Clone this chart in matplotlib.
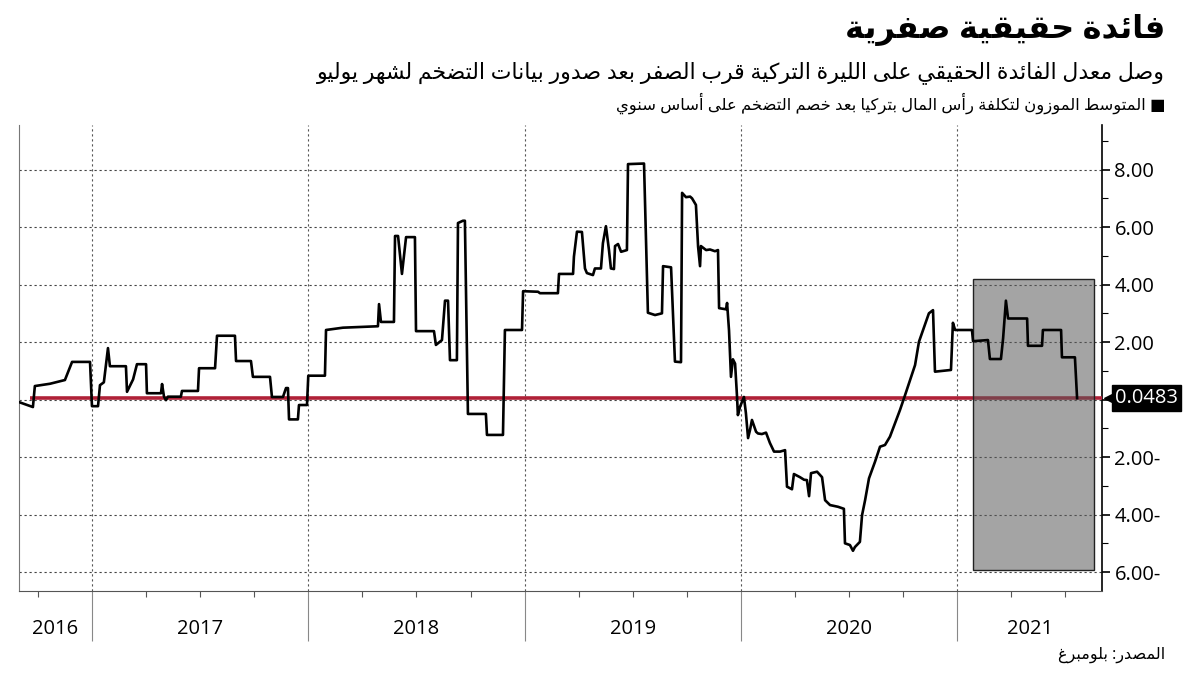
import matplotlib
matplotlib.use("Agg")
import matplotlib.pyplot as plt
import matplotlib.transforms as mtransforms
from matplotlib.ticker import FixedLocator, FuncFormatter, MultipleLocator
from matplotlib.patches import Rectangle

# ---- data (x in decimal years) ----
years = [2016.667, 2016.727, 2016.736, 2016.806, 2016.875, 2016.908, 2016.991, 2017.000,
         2017.028, 2017.037, 2017.055, 2017.074, 2017.083, 2017.157, 2017.162, 2017.190,
         2017.208, 2017.250, 2017.254, 2017.319, 2017.324, 2017.333, 2017.342, 2017.351,
         2017.411, 2017.416, 2017.490, 2017.495, 2017.569, 2017.578, 2017.661, 2017.666,
         2017.735, 2017.744, 2017.823, 2017.832, 2017.883, 2017.897, 2017.906, 2017.911,
         2017.952, 2017.957, 2017.994, 2018.000, 2018.077, 2018.082, 2018.160, 2018.322,
         2018.327, 2018.336, 2018.396, 2018.401, 2018.415, 2018.433, 2018.452, 2018.493,
         2018.498, 2018.581, 2018.590, 2018.618, 2018.632, 2018.646, 2018.655, 2018.687,
         2018.692, 2018.715, 2018.724, 2018.738, 2018.821, 2018.826, 2018.900, 2018.909,
         2018.988, 2018.993, 2019.062, 2019.071, 2019.154, 2019.159, 2019.224, 2019.228,
         2019.242, 2019.265, 2019.279, 2019.288, 2019.316, 2019.325, 2019.353, 2019.362,
         2019.376, 2019.390, 2019.399, 2019.413, 2019.418, 2019.432, 2019.446, 2019.473,
         2019.478, 2019.552, 2019.570, 2019.603, 2019.635, 2019.640, 2019.677, 2019.695,
         2019.723, 2019.728, 2019.746, 2019.765, 2019.774, 2019.792, 2019.802, 2019.811,
         2019.815, 2019.839, 2019.857, 2019.880, 2019.894, 2019.899, 2019.931, 2019.936,
         2019.945, 2019.954, 2019.963, 2019.973, 2019.982, 2019.986, 2019.996, 2020.014,
         2020.023, 2020.033, 2020.042, 2020.051, 2020.060, 2020.070, 2020.079, 2020.097,
         2020.116, 2020.134, 2020.153, 2020.181, 2020.204, 2020.213, 2020.236, 2020.245,
         2020.273, 2020.292, 2020.305, 2020.315, 2020.324, 2020.352, 2020.375, 2020.389,
         2020.412, 2020.449, 2020.476, 2020.481, 2020.504, 2020.518, 2020.527, 2020.550,
         2020.560, 2020.574, 2020.592, 2020.620, 2020.643, 2020.666, 2020.689, 2020.712,
         2020.735, 2020.759, 2020.782, 2020.805, 2020.823, 2020.842, 2020.869, 2020.888,
         2020.897, 2020.971, 2020.980, 2020.990, 2021.068, 2021.073, 2021.142, 2021.151,
         2021.202, 2021.212, 2021.225, 2021.235, 2021.323, 2021.327, 2021.392, 2021.396,
         2021.480, 2021.484, 2021.544, 2021.554]
rate = [-0.10, -0.26, 0.47, 0.55, 0.68, 1.31, 1.31, -0.23,
        -0.23, 0.50, 0.60, 1.79, 1.16, 1.16, 0.27, 0.70,
        1.23, 1.23, 0.22, 0.22, 0.54, 0.10, -0.02, 0.10,
        0.10, 0.30, 0.30, 1.09, 1.09, 2.22, 2.22, 1.34,
        1.34, 0.79, 0.79, 0.09, 0.09, 0.40, 0.40, -0.69,
        -0.69, -0.19, -0.19, 0.83, 0.83, 2.42, 2.50, 2.55,
        3.32, 2.70, 2.70, 5.69, 5.69, 4.37, 5.65, 5.65,
        2.38, 2.38, 1.90, 2.07, 3.44, 3.44, 1.37, 1.37,
        6.14, 6.22, 6.22, -0.50, -0.50, -1.23, -1.23, 2.42,
        2.42, 3.77, 3.75, 3.70, 3.70, 4.37, 4.37, 4.97,
        5.84, 5.83, 4.56, 4.40, 4.33, 4.56, 4.56, 5.44,
        6.03, 5.20, 4.56, 4.54, 5.34, 5.41, 5.14, 5.20,
        8.19, 8.21, 3.02, 2.94, 3.00, 4.64, 4.60, 1.32,
        1.30, 7.19, 7.04, 7.06, 7.00, 6.77, 5.32, 4.64,
        5.34, 5.20, 5.22, 5.16, 5.20, 3.18, 3.14, 3.36,
        2.40, 0.79, 1.40, 1.25, 0.10, -0.54, -0.25, 0.09,
        -0.47, -1.34, -1.06, -0.71, -0.90, -1.12, -1.18, -1.20,
        -1.15, -1.51, -1.81, -1.81, -1.76, -3.03, -3.12, -2.59,
        -2.70, -2.79, -2.80, -3.36, -2.56, -2.51, -2.70, -3.50,
        -3.67, -3.73, -3.80, -5.00, -5.06, -5.26, -5.13, -4.95,
        -4.02, -3.50, -2.74, -2.16, -1.64, -1.58, -1.29, -0.83,
        -0.37, 0.16, 0.68, 1.20, 2.01, 2.42, 3.00, 3.11,
        0.97, 1.03, 2.67, 2.42, 2.42, 2.03, 2.07, 1.41,
        1.41, 2.13, 3.44, 2.82, 2.82, 1.87, 1.87, 2.42,
        2.42, 1.47, 1.47, 0.0483]

year_labels = ["2016", "2017", "2018", "2019", "2020", "2021"]
year_edges = [2016.6625, 2017, 2018, 2019, 2020, 2021, 2021.669]
shade_x = [2021.073, 2021.632]
shade_y = [-5.92, 4.19]
ref_start = 2016.713

title = "فائدة حقيقية صفرية"
subtitle = "وصل معدل الفائدة الحقيقي على الليرة التركية قرب الصفر بعد صدور بيانات التضخم لشهر يوليو"
legend_txt = "■ المتوسط الموزون لتكلفة رأس المال بتركيا بعد خصم التضخم على أساس سنوي"
source_txt = "المصدر: بلومبرغ"

# ---- minimal arabic shaping (matplotlib has no bidi / joining) ----
# letter -> (first presentation form, joins on both sides)
AR_FORMS = {
    "ا": (0xFE8D, False), "أ": (0xFE83, False), "إ": (0xFE87, False), "آ": (0xFE81, False),
    "ئ": (0xFE89, True), "ؤ": (0xFE85, False), "ب": (0xFE8F, True), "ة": (0xFE93, False),
    "ت": (0xFE95, True), "ث": (0xFE99, True), "ج": (0xFE9D, True), "ح": (0xFEA1, True),
    "خ": (0xFEA5, True), "د": (0xFEA9, False), "ذ": (0xFEAB, False), "ر": (0xFEAD, False),
    "ز": (0xFEAF, False), "س": (0xFEB1, True), "ش": (0xFEB5, True), "ص": (0xFEB9, True),
    "ض": (0xFEBD, True), "ط": (0xFEC1, True), "ظ": (0xFEC5, True), "ع": (0xFEC9, True),
    "غ": (0xFECD, True), "ف": (0xFED1, True), "ق": (0xFED5, True), "ك": (0xFED9, True),
    "ل": (0xFEDD, True), "م": (0xFEE1, True), "ن": (0xFEE5, True), "ه": (0xFEE9, True),
    "و": (0xFEED, False), "ى": (0xFEEF, False), "ي": (0xFEF1, True),
}
LAM_ALEF = {"ا": 0xFEFB, "أ": 0xFEF7, "إ": 0xFEF9, "آ": 0xFEF5}


def shape_ar(text):
    out = []
    i = 0
    n = len(text)
    while i < n:
        c = text[i]
        if c not in AR_FORMS:
            out.append(c)
            i += 1
            continue
        prev = text[i - 1] if i > 0 else ""
        prev_joins = prev in AR_FORMS and AR_FORMS[prev][1]
        nxt = text[i + 1] if i + 1 < n else ""
        if c == "ل" and nxt in LAM_ALEF:
            out.append(chr(LAM_ALEF[nxt] + (1 if prev_joins else 0)))
            i += 2
            continue
        base, dual = AR_FORMS[c]
        next_joins = dual and nxt in AR_FORMS
        if prev_joins and next_joins:
            out.append(chr(base + 3))
        elif next_joins:
            out.append(chr(base + 2))
        elif prev_joins:
            out.append(chr(base + 1))
        else:
            out.append(chr(base))
        i += 1
    return "".join(out)[::-1]


def ytick_fmt(v, pos):
    if abs(v) < 1e-9:
        return ""  # hidden behind the value tag
    return f"{abs(v):.2f}-" if v < 0 else f"{v:.2f}"


plt.rcParams["font.family"] = ["Open Sans", "DejaVu Sans"]

fig = plt.figure(figsize=(12, 6.75), dpi=100)
ax = fig.add_axes([0.0158, 0.1244, 0.9025, 0.6904])

ax.set_xlim(year_edges[0], year_edges[-1])
ax.set_ylim(-6.66, 9.55)

# grid
for yv in range(-6, 10, 2):
    ax.axhline(yv, color="#444444", lw=0.8, ls=(0, (2, 2.5)), zorder=1)
for xv in year_edges[1:-1]:
    ax.axvline(xv, color="#555555", lw=0.8, ls=(0, (2, 2.5)), zorder=1)

# reference line at the latest value
ax.hlines(rate[-1], ref_start, year_edges[-1], color="#B02138", lw=2.6, zorder=3)

# shaded recent period
ax.add_patch(Rectangle((shade_x[0], shade_y[0]), shade_x[1] - shade_x[0], shade_y[1] - shade_y[0],
                       facecolor=(0.35, 0.35, 0.35, 0.55), edgecolor="#222222", lw=1.0, zorder=4))

ax.plot(years, rate, color="black", lw=1.9, zorder=5)

# spines
ax.spines["top"].set_visible(False)
ax.spines["left"].set_color("#777777")
ax.spines["bottom"].set_color("#555555")
ax.spines["right"].set_color("black")
ax.spines["right"].set_linewidth(1.2)

# y axis on the right
ax.yaxis.tick_right()
ax.yaxis.set_major_locator(FixedLocator(list(range(-6, 10, 2))))
ax.yaxis.set_minor_locator(MultipleLocator(1))
ax.yaxis.set_major_formatter(FuncFormatter(ytick_fmt))
ax.tick_params(axis="y", which="major", direction="out", length=6, width=1.2, labelsize=14.5, pad=3)
ax.tick_params(axis="y", which="minor", direction="out", length=4, width=0.8)

# x axis: long year separators, short quarter ticks
ax.xaxis.set_major_locator(FixedLocator(year_edges[1:-1]))
ax.xaxis.set_minor_locator(MultipleLocator(0.25))
ax.xaxis.set_major_formatter(FuncFormatter(lambda v, p: ""))
ax.tick_params(axis="x", which="major", direction="out", length=36, width=0.8, color="#888888")
ax.tick_params(axis="x", which="minor", direction="out", length=4, width=0.8, color="#555555")

trans = mtransforms.blended_transform_factory(ax.transData, ax.transAxes)
for i, lab in enumerate(year_labels):
    mid = (year_edges[i] + year_edges[i + 1]) / 2
    ax.text(mid, -0.082, lab, transform=trans, ha="center", va="center", fontsize=14.5)

# value tag at the right axis
tag_trans = mtransforms.blended_transform_factory(ax.transAxes, ax.transData)
ax.plot([1.007], [rate[-1]], marker="<", markersize=9, color="black", transform=tag_trans, clip_on=False, zorder=6)
ax.text(1.012, rate[-1], f"{rate[-1]:.4f}", transform=tag_trans, ha="left", va="center",
        fontsize=14.5, color="white", zorder=7,
        bbox=dict(boxstyle="square,pad=0.16", facecolor="black", edgecolor="black"))

# titles
fig.text(0.971, 0.956, shape_ar(title), ha="right", va="center", fontsize=23, fontweight="bold")
fig.text(0.971, 0.893, shape_ar(subtitle), ha="right", va="center", fontsize=15.8)
fig.text(0.971, 0.847, shape_ar(legend_txt), ha="right", va="center", fontsize=11.8)
fig.text(0.971, 0.030, shape_ar(source_txt), ha="right", va="center", fontsize=11.5)

fig.savefig("out.png", dpi=100)
